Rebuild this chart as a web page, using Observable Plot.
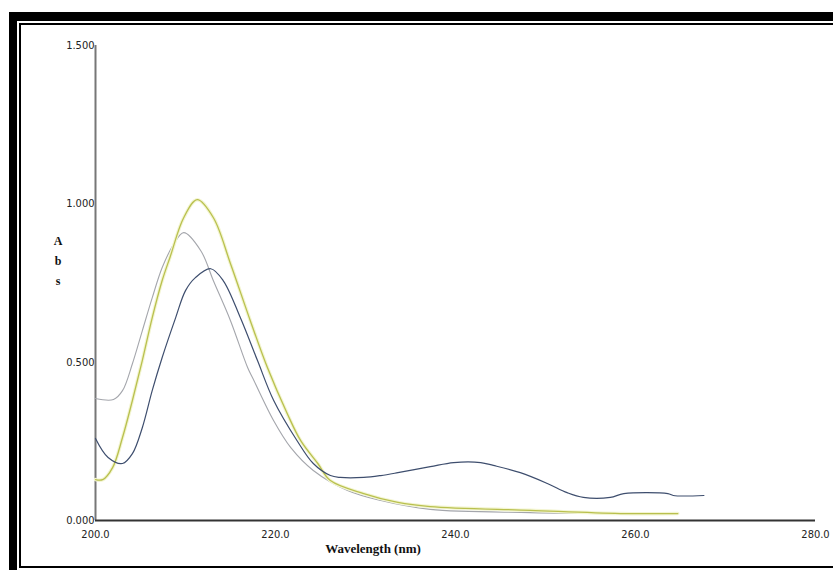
<!DOCTYPE html>
<html>
<head>
<meta charset="utf-8">
<script src="https://cdn.jsdelivr.net/npm/d3@7"></script>
<script src="https://cdn.jsdelivr.net/npm/@observablehq/plot@0.6"></script>
<style>
  html, body { margin: 0; padding: 0; background: #fff; width: 833px; height: 570px; overflow: hidden; }
  #outer { position: absolute; left: 9px; top: 12px; width: 900px; height: 556px; border-left: 8px solid #000; border-top: 9px solid #000; border-bottom: 2px solid #000; }
  #inner { position: absolute; left: 19px; top: 23px; width: 900px; height: 541px; border-left: 2px solid #000; border-top: 2px solid #000; border-bottom: 2px solid #000; }
  #chart { position: absolute; left: 0; top: 0; }
  #chart svg { background: transparent; }
</style>
</head>
<body>
<div id="outer"></div>
<div id="inner"></div>
<div id="chart"></div>
<script>
// Wavelength (nm) / absorbance readings per series
const grayWl  = [200.0, 202.0, 203.0, 204.1, 205.2, 206.3, 207.4, 208.6, 209.8, 211.7, 213.1, 215.0, 216.9, 217.6, 219.8, 221.7, 224.2, 228.0, 231.7, 237.2, 248.3, 258.3, 264.7];
const grayAbs = [0.385, 0.382, 0.410, 0.495, 0.599, 0.703, 0.798, 0.868, 0.909, 0.852, 0.757, 0.631, 0.483, 0.442, 0.315, 0.230, 0.158, 0.095, 0.063, 0.035, 0.025, 0.022, 0.022];

const yellowWl  = [200.0, 200.8, 201.9, 203.0, 204.1, 205.2, 206.3, 207.4, 208.3, 209.8, 211.3, 213.1, 215.0, 217.2, 219.1, 221.3, 222.8, 224.7, 226.1, 229.8, 233.6, 237.2, 248.3, 258.3, 264.7];
const yellowAbs = [0.129, 0.129, 0.167, 0.262, 0.379, 0.505, 0.640, 0.757, 0.833, 0.956, 1.013, 0.956, 0.811, 0.631, 0.483, 0.338, 0.252, 0.180, 0.126, 0.085, 0.057, 0.044, 0.032, 0.022, 0.022];

const blueWl  = [200.0, 201.4, 203.0, 204.1, 205.2, 206.3, 207.4, 208.9, 210.0, 211.1, 212.8, 214.2, 216.1, 218.0, 219.8, 222.4, 224.2, 226.1, 227.2, 229.8, 231.7, 233.6, 237.2, 239.8, 242.8, 244.2, 247.2, 250.2, 252.4, 254.2, 257.2, 258.7, 263.6, 264.2, 267.6];
const blueAbs = [0.259, 0.199, 0.180, 0.211, 0.293, 0.410, 0.514, 0.640, 0.726, 0.767, 0.795, 0.757, 0.640, 0.505, 0.379, 0.252, 0.180, 0.142, 0.136, 0.136, 0.142, 0.151, 0.170, 0.183, 0.183, 0.174, 0.151, 0.117, 0.088, 0.073, 0.073, 0.085, 0.085, 0.079, 0.079];

const xTicks = [200, 220, 240, 260, 280];
const yTicks = [0, 0.5, 1.0, 1.5];
const xTitle = "Wavelength (nm)";
const yTitle = ["A", "b", "s"];

const toRows = (wl, ab) => wl.map((w, i) => ({w, a: ab[i]}));
const gray = toRows(grayWl, grayAbs);
const yellow = toRows(yellowWl, yellowAbs);
const blue = toRows(blueWl, blueAbs);

const tickFont = '"Liberation Sans Narrow", "DejaVu Sans Condensed", sans-serif';

const plot = Plot.plot({
  width: 833,
  height: 570,
  marginLeft: 95,
  marginRight: 18,
  marginTop: 45,
  marginBottom: 50,
  style: {background: "transparent", fontFamily: tickFont, fontSize: "11px", color: "#222"},
  x: {domain: [200, 280], ticks: xTicks, tickFormat: d => d.toFixed(1), tickSize: 0, tickPadding: 10, label: null},
  y: {domain: [0, 1.5], ticks: yTicks, tickFormat: d => d.toFixed(3), tickSize: 0, tickPadding: 1, label: null},
  marks: [
    Plot.ruleX([200], {y1: 0, y2: 1.5, stroke: "#777", strokeWidth: 2}),
    Plot.ruleY([0], {x1: 200, x2: 280, stroke: "#333", strokeWidth: 2}),
    Plot.line(gray, {x: "w", y: "a", stroke: "#a4a6ac", strokeWidth: 1.1, curve: "catmull-rom"}),
    Plot.line(yellow, {x: "w", y: "a", stroke: "#f3f5d2", strokeWidth: 3.5, curve: "catmull-rom"}),
    Plot.line(yellow, {x: "w", y: "a", stroke: "#b9c04e", strokeWidth: 1.3, curve: "catmull-rom"}),
    Plot.line(blue, {x: "w", y: "a", stroke: "#3e4e6e", strokeWidth: 1.2, curve: "catmull-rom"})
  ]
});

const svg = d3.select(plot);
svg.append("text")
  .attr("x", 373).attr("y", 553)
  .attr("text-anchor", "middle")
  .attr("font-family", '"Liberation Serif", "Times New Roman", serif')
  .attr("font-weight", "bold")
  .attr("font-size", 13)
  .attr("fill", "#111")
  .text(xTitle);
const yt = svg.append("text")
  .attr("font-family", '"Liberation Serif", "Times New Roman", serif')
  .attr("font-weight", "bold")
  .attr("font-size", 12)
  .attr("fill", "#111")
  .attr("text-anchor", "middle");
yTitle.forEach((c, i) => {
  yt.append("tspan").attr("x", 58).attr("y", 245 + i * 20).text(c);
});

document.getElementById("chart").appendChild(plot);
</script>
</body>
</html>
